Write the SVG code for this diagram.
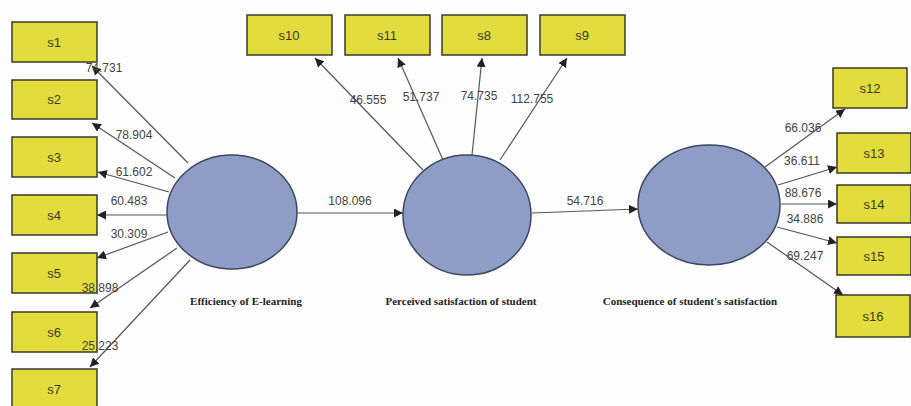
<svg xmlns="http://www.w3.org/2000/svg" width="911" height="406" viewBox="0 0 911 406">
<defs>
<marker id="ah" viewBox="0 0 10 10" refX="10" refY="5" markerWidth="9" markerHeight="9" markerUnits="userSpaceOnUse" orient="auto">
<path d="M0,0 L10,5 L0,10 Z" fill="#222"/>
</marker>
</defs>
<style>
.box{fill:#e2dd3c;stroke:#3a3a2a;stroke-width:1.5}
.bt{font-family:"Liberation Sans",Arial,sans-serif;font-size:13px;fill:#3a3a2a;text-anchor:middle}
.lv{fill:#8e9dc6;stroke:#3d4660;stroke-width:1.5}
.lt{font-family:"Liberation Serif","Times New Roman",serif;font-size:11px;font-weight:bold;fill:#222;text-anchor:middle}
.ln{stroke:#555;stroke-width:1.2;fill:none;marker-end:url(#ah)}
.nm{font-family:"Liberation Sans",Arial,sans-serif;font-size:12px;fill:#444;text-anchor:middle}
</style>
<rect width="911" height="406" fill="#fdfdfd"/>
<g id="s1"><rect class="box" x="12" y="22" width="85" height="40"/><text class="bt" x="54" y="47">s1</text></g>
<g id="s2"><rect class="box" x="12" y="80" width="85" height="39"/><text class="bt" x="54" y="104">s2</text></g>
<g id="s3"><rect class="box" x="12" y="137" width="85" height="40"/><text class="bt" x="54" y="162">s3</text></g>
<g id="s4"><rect class="box" x="12" y="195" width="85" height="40"/><text class="bt" x="54" y="220">s4</text></g>
<g id="s5"><rect class="box" x="12" y="253" width="85" height="40"/><text class="bt" x="54" y="278">s5</text></g>
<g id="s6"><rect class="box" x="12" y="312" width="85" height="40"/><text class="bt" x="54" y="337">s6</text></g>
<g id="s7"><rect class="box" x="12" y="369" width="85" height="40"/><text class="bt" x="54" y="394">s7</text></g>
<g id="s10"><rect class="box" x="247" y="15" width="85" height="40"/><text class="bt" x="289" y="40">s10</text></g>
<g id="s11"><rect class="box" x="345" y="15" width="85" height="40"/><text class="bt" x="387" y="40">s11</text></g>
<g id="s8"><rect class="box" x="442" y="15" width="85" height="40"/><text class="bt" x="484" y="40">s8</text></g>
<g id="s9"><rect class="box" x="540" y="15" width="85" height="40"/><text class="bt" x="582" y="40">s9</text></g>
<g id="s12"><rect class="box" x="833" y="68" width="74" height="40"/><text class="bt" x="870" y="93">s12</text></g>
<g id="s13"><rect class="box" x="837" y="133" width="74" height="40"/><text class="bt" x="874" y="158">s13</text></g>
<g id="s14"><rect class="box" x="837" y="185" width="74" height="38"/><text class="bt" x="874" y="209">s14</text></g>
<g id="s15"><rect class="box" x="837" y="237" width="74" height="38"/><text class="bt" x="874" y="261">s15</text></g>
<g id="s16"><rect class="box" x="836" y="295" width="74" height="42"/><text class="bt" x="873" y="321">s16</text></g>
<g id="efficiency"><ellipse class="lv" cx="232" cy="212" rx="65" ry="57"/><text class="lt" x="246" y="305">Efficiency of E-learning</text></g>
<g id="perceived"><ellipse class="lv" cx="467" cy="215" rx="64" ry="60"/><text class="lt" x="461" y="305">Perceived satisfaction of student</text></g>
<g id="consequence"><ellipse class="lv" cx="709" cy="205" rx="71" ry="60"/><text class="lt" x="690" y="305">Consequence of student's satisfaction</text></g>
<g id="connectors">
<line class="ln" x1="188" y1="163" x2="92" y2="66"/>
<line class="ln" x1="175" y1="178" x2="92" y2="123"/>
<line class="ln" x1="169" y1="192" x2="98" y2="172"/>
<line class="ln" x1="167" y1="215" x2="97" y2="215"/>
<line class="ln" x1="168" y1="232" x2="97" y2="258"/>
<line class="ln" x1="177" y1="248" x2="90" y2="308"/>
<line class="ln" x1="190" y1="260" x2="90" y2="367"/>
<line class="ln" x1="297" y1="213" x2="403" y2="213"/>
<line class="ln" x1="532" y1="213" x2="638" y2="209"/>
<line class="ln" x1="423" y1="170" x2="315" y2="58"/>
<line class="ln" x1="443" y1="160" x2="398" y2="58"/>
<line class="ln" x1="472" y1="155" x2="482" y2="58"/>
<line class="ln" x1="500" y1="160" x2="567" y2="58"/>
<line class="ln" x1="765" y1="167" x2="845" y2="109"/>
<line class="ln" x1="778" y1="185" x2="837" y2="167"/>
<line class="ln" x1="781" y1="204" x2="837" y2="204"/>
<line class="ln" x1="777" y1="227" x2="837" y2="243"/>
<line class="ln" x1="767" y1="242" x2="843" y2="295"/>
<text class="nm" x="104" y="72">74.731</text>
<text class="nm" x="134" y="139">78.904</text>
<text class="nm" x="134" y="176">61.602</text>
<text class="nm" x="129" y="205">60.483</text>
<text class="nm" x="129" y="238">30.309</text>
<text class="nm" x="100" y="292">38.898</text>
<text class="nm" x="100" y="350">25.223</text>
<text class="nm" x="350" y="205">108.096</text>
<text class="nm" x="585" y="205">54.716</text>
<text class="nm" x="368" y="104">46.555</text>
<text class="nm" x="421" y="101">51.737</text>
<text class="nm" x="479" y="100">74.735</text>
<text class="nm" x="532" y="103">112.755</text>
<text class="nm" x="803" y="132">66.036</text>
<text class="nm" x="802" y="165">36.611</text>
<text class="nm" x="803" y="197">88.676</text>
<text class="nm" x="805" y="223">34.886</text>
<text class="nm" x="805" y="260">69.247</text>
</g>
</svg>
